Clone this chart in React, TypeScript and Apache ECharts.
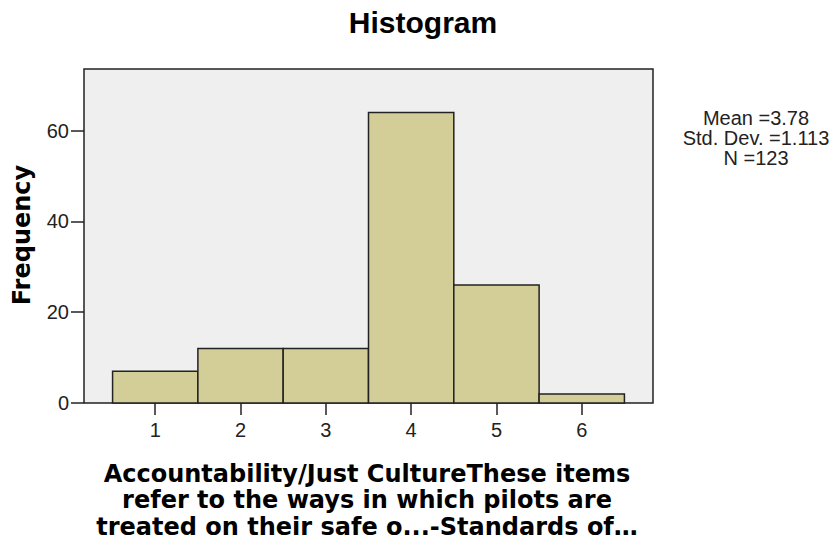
import React, { useEffect, useRef } from "react";
import * as echarts from "echarts";

const binCenters = [1, 2, 3, 4, 5, 6];
const frequencies = [7, 12, 12, 64, 26, 2];
const binWidth = 1;
const xTickValues = [1, 2, 3, 4, 5, 6];
const statsLines = ["Mean =3.78", "Std. Dev. =1.113", "N =123"];
const titleText = "Histogram";
const yTitle = "Frequency";
const xTitleLines = [
  "Accountability/Just CultureThese items",
  "refer to the ways in which pilots are",
  "treated on their safe o...-Standards of\u2026",
];

const FONT = "'Liberation Sans', Arial, sans-serif";
const TITLE_FONT = "'DejaVu Sans', Verdana, sans-serif";
const INK = "#222222";

export default function App() {
  const ref = useRef<HTMLDivElement>(null);

  useEffect(() => {
    if (!ref.current) return;
    const chart = echarts.init(ref.current, undefined, { renderer: "svg" });

    const data = binCenters.map((c, i) => [c, frequencies[i]]);

    chart.setOption({
      animation: false,
      backgroundColor: "#ffffff",
      grid: {
        left: 84,
        right: 182,
        top: 69,
        bottom: 137,
        show: true,
        backgroundColor: "#efefef",
        borderColor: INK,
        borderWidth: 1.5,
      },
      xAxis: {
        type: "value",
        min: 0.165,
        max: 6.835,
        axisLine: { show: false },
        splitLine: { show: false },
        axisTick: {
          show: true,
          length: 12,
          customValues: xTickValues,
          lineStyle: { color: INK, width: 1.5 },
        },
        axisLabel: {
          customValues: xTickValues,
          fontSize: 20,
          fontFamily: FONT,
          color: INK,
          margin: 17,
        },
      },
      yAxis: {
        type: "value",
        min: 0,
        max: 73.6,
        interval: 20,
        axisLine: { show: false },
        splitLine: { show: false },
        axisTick: {
          show: true,
          length: 13,
          lineStyle: { color: INK, width: 1.5 },
        },
        axisLabel: {
          fontSize: 20,
          fontFamily: FONT,
          color: INK,
          margin: 15,
          showMaxLabel: false,
        },
      },
      series: [
        {
          type: "custom",
          data,
          renderItem: (params: any, api: any) => {
            const c = api.value(0);
            const v = api.value(1);
            const p1 = api.coord([c - binWidth / 2, v]);
            const p2 = api.coord([c + binWidth / 2, 0]);
            return {
              type: "rect",
              shape: {
                x: p1[0],
                y: p1[1],
                width: p2[0] - p1[0],
                height: p2[1] - p1[1],
              },
              style: {
                fill: "#d3ce97",
                stroke: INK,
                lineWidth: 1.5,
              },
            };
          },
        },
      ],
      graphic: [
        {
          type: "text",
          x: 423,
          y: 22.5,
          style: {
            text: titleText,
            fontSize: 30,
            fontWeight: "bold",
            fontFamily: FONT,
            fill: "#000",
            textAlign: "center",
            textVerticalAlign: "middle",
          },
        },
        {
          type: "text",
          x: 22,
          y: 235,
          rotation: Math.PI / 2,
          style: {
            text: yTitle,
            fontSize: 24,
            fontWeight: "bold",
            fontFamily: TITLE_FONT,
            fill: "#000",
            textAlign: "center",
            textVerticalAlign: "middle",
          },
        },
        {
          type: "text",
          x: 756,
          y: 137.5,
          style: {
            text: statsLines.join("\n"),
            fontSize: 20,
            lineHeight: 20,
            fontFamily: FONT,
            fill: INK,
            textAlign: "center",
            textVerticalAlign: "middle",
          },
        },
        {
          type: "text",
          x: 367,
          y: 500,
          style: {
            text: xTitleLines.join("\n"),
            fontSize: 24,
            lineHeight: 26.5,
            fontWeight: "bold",
            fontFamily: TITLE_FONT,
            fill: "#000",
            textAlign: "center",
            textVerticalAlign: "middle",
          },
        },
      ],
    });

    return () => {
      chart.dispose();
    };
  }, []);

  return (
    <div
      ref={ref}
      style={{ position: "fixed", left: 0, top: 0, width: 835, height: 540 }}
    />
  );
}
